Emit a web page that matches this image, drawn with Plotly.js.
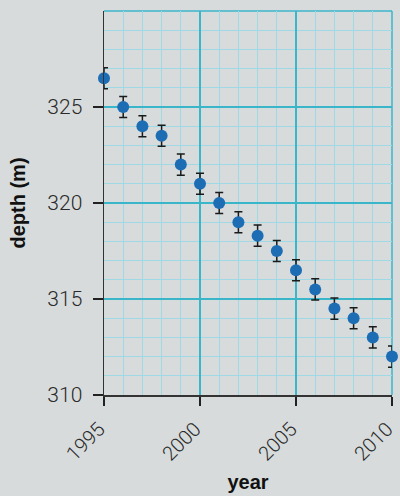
<!DOCTYPE html>
<html>
<head>
<meta charset="utf-8">
<script src="https://cdn.plot.ly/plotly-3.0.1.min.js"></script>
<style>html,body{margin:0;padding:0;background:#d7dbdb;}</style>
</head>
<body>
<div id="chart" style="width:400px;height:496px;"></div>
<script>
const years = [1995,1996,1997,1998,1999,2000,2001,2002,2003,2004,2005,2006,2007,2008,2009,2010];
const depth = [326.5,325.0,324.0,323.5,322.0,321.0,320.0,319.0,318.3,317.5,316.5,315.5,314.5,314.0,313.0,312.0];
const depthErr = [0.55,0.55,0.55,0.55,0.55,0.55,0.55,0.55,0.55,0.55,0.55,0.55,0.55,0.55,0.55,0.55];
const xTicks = [1995,2000,2005,2010];
const yTicks = [310,315,320,325];

const trace = {
  x: years, y: depth, type: 'scatter', mode: 'markers',
  marker: {color: '#1c6db4', size: 12},
  error_y: {type: 'data', array: depthErr, visible: true, color: '#1a1a1a', thickness: 1.5, width: 4},
  cliponaxis: false, hoverinfo: 'none'
};

const yTickFont = {family: 'Roboto, Liberation Sans, sans-serif', size: 21, color: '#2a2a2a', weight: 300};
const xTickFont = {family: 'Roboto, Liberation Sans, sans-serif', size: 20, color: '#2a2a2a', weight: 300};
const titleFont = {family: 'Liberation Sans, sans-serif', size: 20, color: '#111', weight: 700};

const layout = {
  width: 400, height: 496,
  margin: {l: 104, r: 8, t: 11, b: 101},
  paper_bgcolor: '#d7dbdb', plot_bgcolor: '#d7dbdb',
  showlegend: false,
  xaxis: {
    range: [1995, 2010], tickvals: xTicks, ticktext: xTicks.map(String),
    tickangle: -45, tickfont: xTickFont, ticklabeloverflow: 'allow',
    ticklabelstandoff: 4, ticklabelshift: -5,
    ticks: 'outside', ticklen: 9, tickwidth: 1.5, tickcolor: '#222',
    showline: true, linecolor: '#333', linewidth: 1.5,
    showgrid: true, gridcolor: '#3ab6cb', gridwidth: 1.3,
    minor: {dtick: 1, showgrid: true, gridcolor: '#9fd9e5', gridwidth: 1},
    zeroline: false, fixedrange: true,
    title: {text: 'year', font: titleFont, standoff: 10}
  },
  yaxis: {
    range: [310, 330], tickvals: yTicks, ticktext: yTicks.map(String),
    tickfont: yTickFont, ticklabelstandoff: 6,
    ticks: 'outside', ticklen: 10, tickwidth: 1.5, tickcolor: '#222',
    showline: true, linecolor: '#333', linewidth: 1.5,
    showgrid: true, gridcolor: '#3ab6cb', gridwidth: 1.3,
    minor: {dtick: 1, showgrid: true, gridcolor: '#9fd9e5', gridwidth: 1},
    zeroline: false, fixedrange: true,
    title: {text: 'depth (m)', font: titleFont, standoff: 16}
  },
  shapes: [
    {type: 'line', xref: 'paper', yref: 'paper', x0: 0, x1: 1, y0: 1, y1: 1, line: {color: '#3ab6cb', width: 1.5}, layer: 'below'},
    {type: 'line', xref: 'paper', yref: 'paper', x0: 1, x1: 1, y0: 0, y1: 1, line: {color: '#3ab6cb', width: 1.5}, layer: 'below'}
  ]
};

Plotly.newPlot('chart', [trace], layout, {staticPlot: true, displayModeBar: false});
</script>
</body>
</html>
